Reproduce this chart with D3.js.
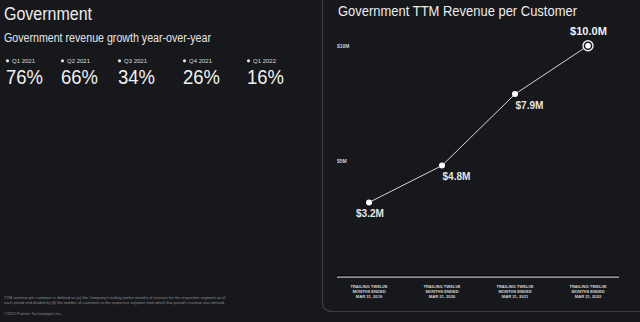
<!DOCTYPE html>
<html><head><meta charset="utf-8">
<script src="https://cdn.jsdelivr.net/npm/d3@7"></script>
<style>
html,body{margin:0;padding:0;background:#17181c;}
svg{display:block;font-family:"Liberation Sans",Arial,sans-serif;}
</style></head>
<body>
<svg id="c" width="640" height="322"></svg>
<script>
// ---- data ----
const quarters = ["Q1 2021","Q2 2021","Q3 2021","Q4 2021","Q1 2022"];
const growth = [76, 66, 34, 26, 16];
const periods = ["MAR 31, 2019","MAR 31, 2020","MAR 31, 2021","MAR 31, 2022"];
const revenuePerCustomer = [3.2, 4.8, 7.9, 10.0];
const yTicks = [5, 10];
const revLabels = ["$3.2M","$4.8M","$7.9M","$10.0M"];

const svg = d3.select("#c");
const W = 640, H = 322;
svg.append("rect").attr("width",W).attr("height",H).attr("fill","#17181c");

// scale a text's font-size so it spans the target width
function fit(sel, w) {
  const l = sel.node().getComputedTextLength();
  const fs = +sel.attr("font-size");
  const nfs = fs * w / l;
  sel.attr("font-size", nfs);
  return nfs / fs;
}
// keep font-size, condense glyphs horizontally to a target width
function squeeze(sel, w) {
  sel.attr("textLength", w).attr("lengthAdjust", "spacingAndGlyphs");
}

// ---- left block ----
squeeze(svg.append("text").attr("x",4).attr("y",20).attr("fill","#ececec")
  .attr("font-size",17.5).text("Government"), 88);
squeeze(svg.append("text").attr("x",4).attr("y",42).attr("fill","#e6e6e6")
  .attr("font-size",12).text("Government revenue growth year-over-year"), 207);

const colX = [6, 61, 118, 183, 247];
const g = svg.append("g");
let qk = null, nk = null;
quarters.forEach((q,i)=>{
  g.append("circle").attr("cx",colX[i]+1.5).attr("cy",60.8).attr("r",1.6).attr("fill","#e6e6e6");
  const qt = g.append("text").attr("x",colX[i]+6).attr("y",63).attr("fill","#dcdcdc")
    .attr("font-size",7).text(q);
  if (qk === null) qk = fit(qt, 23); else qt.attr("font-size", 7*qk);
  const nt = g.append("text").attr("x",colX[i]).attr("y",83.5).attr("fill","#f0f0f0")
    .attr("font-size",20.5).text(growth[i] + "%");
  const nl = nt.node().getComputedTextLength();
  if (nk === null) nk = 37 / nl;
  squeeze(nt, nl * nk);
});

// footnotes
const foot = svg.append("g").attr("fill","#8a8b8f");
fit(foot.append("text").attr("x",4).attr("y",298.5).attr("font-size",4.4)
  .text("TTM revenue per customer is defined as (a) the Company's trailing twelve months of revenue for the respective segment as of"), 222);
fit(foot.append("text").attr("x",4).attr("y",304).attr("font-size",4.4)
  .text("each period end divided by (b) the number of customers in the respective segment from which that period's revenue was derived."), 222);
fit(foot.append("text").attr("x",4).attr("y",314.5).attr("font-size",4.4)
  .text("\u00A92022 Palantir Technologies Inc."), 58);

// ---- right panel ----
const px = 322.5, pb = 311.5, rad = 10;
svg.append("path")
  .attr("d",`M${px},-2 L${px},${pb-rad} Q${px},${pb} ${px+rad},${pb} L${W+2},${pb}`)
  .attr("fill","none").attr("stroke","#3b3c41").attr("stroke-width",1.2);

squeeze(svg.append("text").attr("x",338).attr("y",15.5).attr("fill","#ececec")
  .attr("font-size",14).text("Government TTM Revenue per Customer"), 239);

const x = d3.scalePoint().domain(periods).range([369, 588]);
const y = d3.scaleLinear().domain([0, 10]).range([276.2, 45.7]);

// y tick labels
svg.append("g").selectAll("text").data(yTicks).join("text")
  .attr("x",337).attr("y",d=>y(d)+1.8).attr("fill","#cfcfcf")
  .attr("font-size",5).attr("font-weight",700).text(d=>"$"+d+"M");

// baseline
svg.append("line").attr("x1",337).attr("x2",619).attr("y1",y(0)-0.3).attr("y2",y(0)-0.3)
  .attr("stroke","#000").attr("stroke-width",1);
svg.append("line").attr("x1",337).attr("x2",619).attr("y1",y(0)+1).attr("y2",y(0)+1)
  .attr("stroke","#b8b8b8").attr("stroke-width",1.3);

// x labels
const xl = svg.append("g").attr("fill","#d4d4d4").attr("font-size",4.1).attr("font-weight",700)
  .attr("text-anchor","middle");
periods.forEach(p=>{
  const cx = x(p);
  xl.append("text").attr("x",cx).attr("y",287.5).text("TRAILING TWELVE");
  xl.append("text").attr("x",cx).attr("y",292.8).text("MONTHS ENDED");
  xl.append("text").attr("x",cx).attr("y",298).text(p);
});

// line
const pts = periods.map((p,i)=>[x(p), y(revenuePerCustomer[i])]);
svg.append("path").attr("d", d3.line()(pts)).attr("fill","none")
  .attr("stroke","#d4d4d4").attr("stroke-width",1);

pts.forEach((pt,i)=>{
  const last = i === pts.length-1;
  if (last) {
    svg.append("circle").attr("cx",pt[0]).attr("cy",pt[1]).attr("r",5)
      .attr("fill","#17181c").attr("stroke","#f0f0f0").attr("stroke-width",1.4);
    svg.append("circle").attr("cx",pt[0]).attr("cy",pt[1]).attr("r",2.8).attr("fill","#fff");
    const t = svg.append("text").attr("x",pt[0]+0.5).attr("y",pt[1]-10.5).attr("text-anchor","middle")
      .attr("fill","#f0f0f0").attr("font-size",11.5).attr("font-weight",700).text(revLabels[i]);
    fit(t, 37);
  } else {
    svg.append("circle").attr("cx",pt[0]).attr("cy",pt[1]).attr("r",3).attr("fill","#fff");
    const t = svg.append("text").attr("y",pt[1]+14.5)
      .attr("fill","#e4e4e4").attr("font-size",10).attr("font-weight",700).text(revLabels[i]);
    fit(t, 28);
    if (i === 0) t.attr("x",pt[0]+1).attr("text-anchor","middle");
    else t.attr("x",pt[0]+0.5).attr("text-anchor","start");
  }
});
</script>
</body></html>
